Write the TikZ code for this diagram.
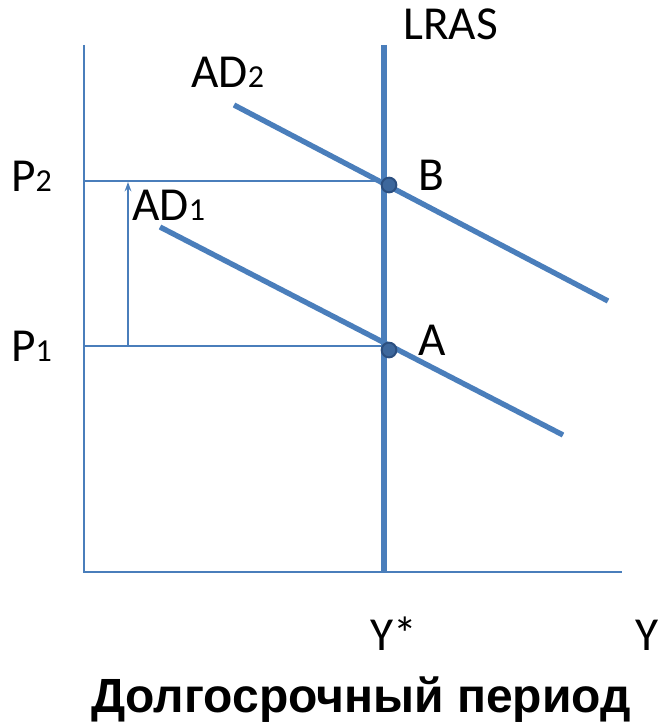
\documentclass[tikz,border=0pt]{standalone}
\usepackage{fontspec}
\setmainfont{Carlito}
\newfontfamily\titlefont{Liberation Sans}
\usetikzlibrary{arrows.meta}
\definecolor{lineblue}{HTML}{4A7EBB}
\definecolor{dotblue}{HTML}{3D679C}
\definecolor{dotring}{HTML}{2C4F80}
\newcommand{\lowidx}[1]{{\fontsize{24}{24}\selectfont #1}}

\begin{document}
\begin{tikzpicture}[x=0.75pt,y=-0.75pt,
	thinline/.style={lineblue, line width=1.4pt},
	thickline/.style={lineblue, line width=4pt},
	lbl/.style={font=\fontsize{35.5}{35.5}\selectfont, inner sep=0pt, anchor=base west},
	eqpoint/.style={circle, fill=dotblue, draw=dotring, line width=1.5pt, minimum size=11pt, inner sep=0pt}]
	\useasboundingbox (0,0) rectangle (657,724);
	
	% axes
	\coordinate (O) at (84,572);
	\coordinate (ytop) at (84,45);
	\coordinate (xend) at (622,572);
	\draw[thinline] (ytop) -- (O) -- (xend);
	
	% price levels
	\coordinate (p2) at (84,181);
	\coordinate (p1) at (84,346);
	\coordinate (b) at (385,181);
	\coordinate (a) at (385,346);
	\draw[thinline] (p2) -- (b);
	\draw[thinline] (p1) -- (a);
	\coordinate (arrlow) at (128,346);
	\coordinate (arrhigh) at (128,182);
	\draw[thinline, -{Stealth[length=7pt,width=5pt]}] (arrlow) -- (arrhigh);
	
	% LRAS
	\coordinate (lrtop) at (384,45);
	\coordinate (lrbot) at (384,572);
	\draw[thickline] (lrtop) -- (lrbot);
	
	% AD curves
	\coordinate (adtwoa) at (234,105);
	\coordinate (adtwob) at (608,301);
	\coordinate (adonea) at (160,227);
	\coordinate (adoneb) at (563,435);
	\draw[thickline] (adtwoa) -- (adtwob);
	\draw[thickline] (adonea) -- (adoneb);
	
	\node[eqpoint] (ptb) at (389,185) {};
	\node[eqpoint] (pta) at (389,350) {};
	
	% labels
	\node[lbl] (lras) at (403,40) {LRAS};
	\node[lbl] (adtwo) at (191,88) {AD\lowidx{2}};
	\node[lbl] (adone) at (132,220) {AD\lowidx{1}};
	\node[lbl] (ptwo) at (11,191) {P\lowidx{2}};
	\node[lbl] (pone) at (11,361) {P\lowidx{1}};
	\node[lbl] (lb) at (418,190) {B};
	\node[lbl] (la) at (418,355) {A};
	\node[lbl] (ystar) at (370,650) {Y*};
	\node[lbl] (yy) at (635,650) {Y};
	\node[font=\titlefont\bfseries\fontsize{36}{36}\selectfont, inner sep=0pt, anchor=base] (title) at (361,712) {Долгосрочный период};
\end{tikzpicture}
\end{document}
